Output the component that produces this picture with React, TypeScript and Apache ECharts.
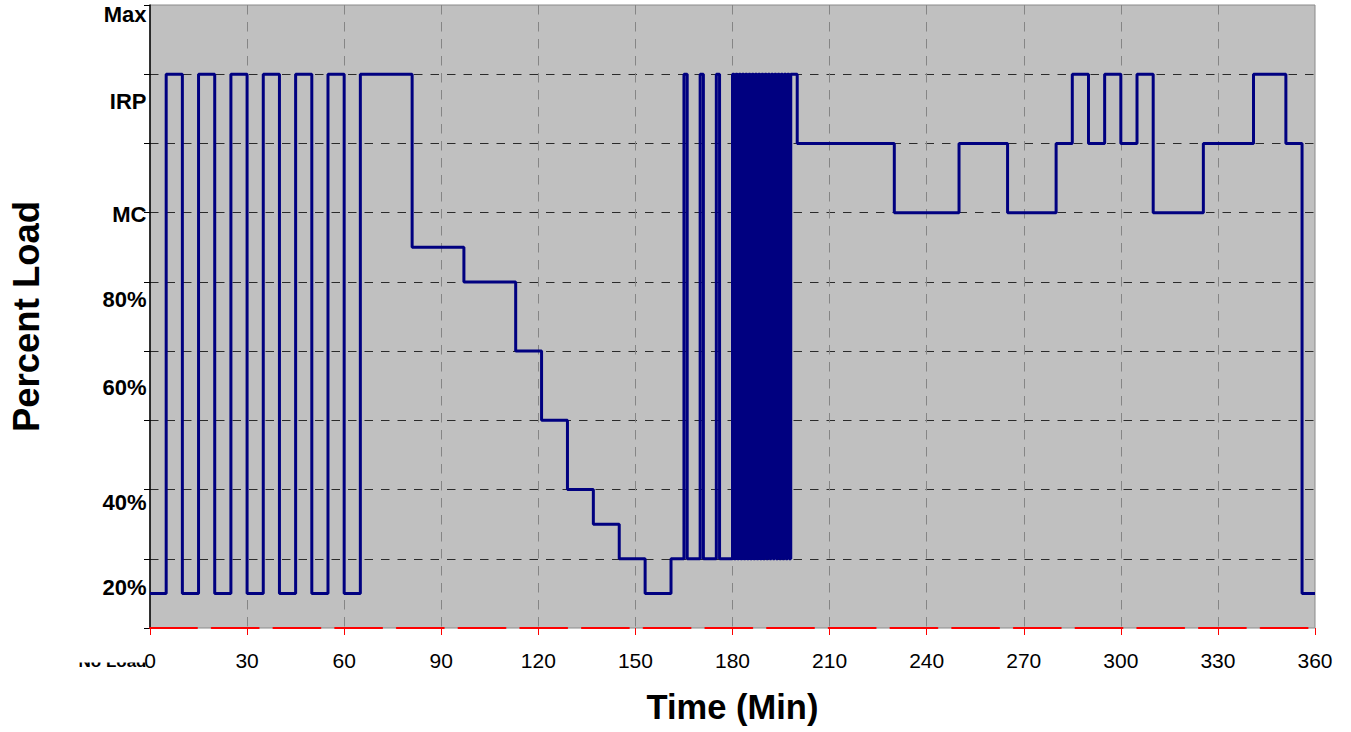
import React, { useEffect, useRef } from 'react';
import * as echarts from 'echarts';

// ---- data ----
const xTitle = 'Time (Min)';
const yTitle = 'Percent Load';

// y-level scale: 0 = No Load ... 9 = Max (gridlines every level)
const yLabelNames = ['Max', 'IRP', 'MC', '80%', '60%', '40%', '20%', 'No Load'];
const yLabelLevels = [8.86, 7.61, 5.97, 4.74, 3.48, 1.82, 0.58, -0.49];
const yLabelSizes = [22, 22, 22, 22, 22, 22, 22, 17];

// step profile, part 1 (value holds from the time until the next time)
const startTimes = [0, 5, 10, 15, 20, 25, 30, 35, 40, 45, 50, 55, 60, 65, 81, 97, 113, 121, 129, 137, 145, 153, 161, 165, 166, 170, 171, 175, 176];
const startLevels = [0.5, 8, 0.5, 8, 0.5, 8, 0.5, 8, 0.5, 8, 0.5, 8, 0.5, 8, 5.5, 5, 4, 3, 2, 1.5, 1, 0.5, 1, 8, 1, 8, 1, 8, 1];

// dense cycling block
const denseTimes = [180, 180.5, 181, 181.5, 182, 182.5, 183, 183.5, 184, 184.5, 185, 185.5, 186, 186.5, 187, 187.5, 188, 188.5, 189, 189.5, 190, 190.5, 191, 191.5, 192, 192.5, 193, 193.5, 194, 194.5, 195, 195.5, 196, 196.5, 197, 197.5, 198];
const denseLevels = [8, 1, 8, 1, 8, 1, 8, 1, 8, 1, 8, 1, 8, 1, 8, 1, 8, 1, 8, 1, 8, 1, 8, 1, 8, 1, 8, 1, 8, 1, 8, 1, 8, 1, 8, 1, 8];

// step profile, part 2
const endTimes = [200, 230, 250, 265, 280, 285, 290, 295, 300, 305, 310, 325.5, 341, 351, 356, 360];
const endLevels = [7, 6, 7, 6, 7, 8, 7, 8, 7, 8, 6, 7, 8, 7, 0.5, 0.5];

export default function App() {
  const ref = useRef<HTMLDivElement>(null);
  useEffect(() => {
    const chart = echarts.init(ref.current as HTMLDivElement, null, { renderer: 'svg' });
    const font = "'Liberation Sans', Arial, sans-serif";
    const times = [...startTimes, ...denseTimes, ...endTimes];
    const levels = [...startLevels, ...denseLevels, ...endLevels];
    chart.setOption({
      animation: false,
      backgroundColor: '#ffffff',
      textStyle: { fontFamily: font },
      grid: {
        left: 150, top: 5, right: 36, bottom: 104,
        show: true, backgroundColor: '#c0c0c0', borderColor: '#8a8a8a', borderWidth: 1,
      },
      xAxis: [
        {
          type: 'value', min: 0, max: 360, interval: 30, z: 10,
          name: xTitle, nameLocation: 'middle', nameGap: 61,
          nameTextStyle: { fontSize: 34.5, fontWeight: 'bold', color: '#000', fontFamily: font },
          axisLine: { show: true, onZero: false, lineStyle: { color: '#ff0000', width: 2, type: [47, 14.7] } },
          axisTick: { show: true, length: 7, lineStyle: { color: '#ff0000', width: 1 } },
          axisLabel: { fontSize: 21, color: '#000', margin: 22, fontFamily: font },
          splitLine: { show: false },
        },
        {
          type: 'value', min: 0, max: 360, interval: 30, z: 0,
          axisLine: { show: false }, axisTick: { show: false }, axisLabel: { show: false },
          splitLine: { show: true, showMinLine: false, showMaxLine: false, lineStyle: { color: '#858585', width: 1, type: [9.5, 7.5] } },
        },
      ],
      yAxis: {
        type: 'value', min: 0, max: 9, interval: 1,
        name: yTitle, nameLocation: 'middle', nameGap: 105,
        nameTextStyle: { fontSize: 36.5, fontWeight: 'bold', color: '#000', fontFamily: font },
        axisLine: { show: true, lineStyle: { color: '#000', width: 1.5 } },
        axisTick: { show: true, length: 6, lineStyle: { color: '#000', width: 1 } },
        axisLabel: { show: false },
        splitLine: { show: true, showMinLine: false, showMaxLine: false, lineStyle: { color: '#2a2a2a', width: 1, type: [8.5, 8] } },
      },
      series: [
        {
          type: 'line', step: 'end', xAxisIndex: 0, z: 3,
          data: times.map((t, i) => [t, levels[i]]),
          symbol: 'none', showSymbol: false,
          lineStyle: { color: '#000080', width: 3 },
        },
        {
          type: 'scatter', xAxisIndex: 0, z: 2, clip: false, silent: true,
          data: yLabelLevels.map((v, i) => ({
            value: [0, v], name: yLabelNames[i],
            label: { fontSize: yLabelSizes[i] },
          })),
          symbolSize: 1, itemStyle: { color: 'rgba(255,255,255,0)' },
          label: {
            show: true, position: 'left', distance: 3,
            formatter: (p: any) => p.name,
            fontWeight: 'bold', color: '#000000', opacity: 1, fontFamily: font,
          },
        },
      ],
      graphic: [
        { type: 'rect', left: 60, top: 638, z: 5, silent: true, shape: { width: 120, height: 24.5 }, style: { fill: '#ffffff' } },
      ],
    });
    return () => chart.dispose();
  }, []);
  return <div ref={ref} style={{ position: 'fixed', left: 0, top: 0, width: 1351, height: 732 }} />;
}
